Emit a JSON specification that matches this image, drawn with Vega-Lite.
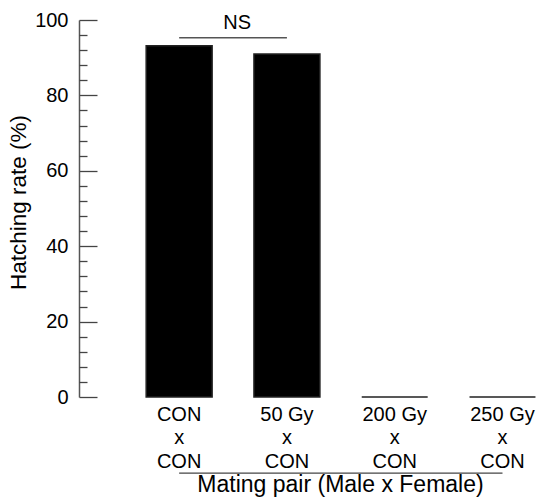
{
  "$schema": "https://vega.github.io/schema/vega-lite/v6.json",
  "width": 460,
  "height": 377,
  "autosize": "none",
  "padding": {"left": 79, "top": 20, "right": 0, "bottom": 105},
  "background": "white",
  "config": {
    "view": {"stroke": null},
    "font": "Liberation Sans",
    "axis": {"grid": false, "labelFont": "Liberation Sans", "titleFont": "Liberation Sans", "labelColor": "black", "titleColor": "black", "titleFontWeight": "normal"}
  },
  "datasets": {
    "bars": [
      {"pair": "CON|x|CON", "rate": 93.2},
      {"pair": "50 Gy|x|CON", "rate": 91.0},
      {"pair": "200 Gy|x|CON", "rate": 0},
      {"pair": "250 Gy|x|CON", "rate": 0}
    ],
    "ns": [{"from": "CON|x|CON", "to": "50 Gy|x|CON", "y": 95.3, "ty": 97.5, "label": "NS"}],
    "bracket": [{"from": "CON|x|CON", "to": "250 Gy|x|CON", "y": -20.2}]
  },
  "resolve": {"axis": {"y": "independent"}},
  "layer": [
    {
      "data": {"name": "bars"},
      "mark": {"type": "bar", "color": "black", "stroke": "#222", "strokeWidth": 1.5},
      "encoding": {
        "x": {
          "field": "pair", "type": "nominal", "sort": null,
          "scale": {"paddingInner": 0.388, "paddingOuter": 0.328, "align": 0.95},
          "axis": {
            "domain": false, "ticks": false, "labelAngle": 0,
            "labelExpr": "split(datum.label, '|')",
            "labelFontSize": 20, "labelLineHeight": 23.5, "labelPadding": 7,
            "title": "Mating pair (Male x Female)", "titleFontSize": 23,
            "titleX": 261, "titlePadding": 2
          }
        },
        "y": {
          "field": "rate", "type": "quantitative",
          "scale": {"domain": [0, 100], "nice": false},
          "axis": {
            "values": [0, 20, 40, 60, 80, 100],
            "tickSize": -18, "tickColor": "#444", "tickWidth": 1.3,
            "domainColor": "#555", "domainWidth": 1.5,
            "labelFontSize": 20, "labelPadding": 29,
            "title": "Hatching rate (%)", "titleFontSize": 22.5, "titlePadding": 4, "titleY": 182
          }
        }
      }
    },
    {
      "data": {"name": "ns"},
      "mark": {"type": "rule", "color": "#555", "strokeWidth": 1.5},
      "encoding": {
        "x": {"field": "from", "type": "nominal", "sort": null},
        "x2": {"field": "to"},
        "y": {
          "field": "y", "type": "quantitative",
          "axis": {
            "values": [4, 8, 12, 16, 24, 28, 32, 36, 44, 48, 52, 56, 64, 68, 72, 76, 84, 88, 92, 96],
            "orient": "left", "domain": false, "labels": false, "title": null,
            "tickSize": -8, "tickColor": "#444", "tickWidth": 1.3
          }
        }
      }
    },
    {
      "data": {"name": "ns"},
      "mark": {"type": "text", "fontSize": 20, "dx": 58, "baseline": "alphabetic", "color": "black"},
      "encoding": {
        "x": {"field": "from", "type": "nominal", "sort": null},
        "y": {"field": "ty", "type": "quantitative", "axis": null},
        "text": {"field": "label"}
      }
    },
    {
      "data": {"name": "bracket"},
      "mark": {"type": "rule", "color": "#444", "strokeWidth": 1.3},
      "encoding": {
        "x": {"field": "from", "type": "nominal", "sort": null},
        "x2": {"field": "to"},
        "y": {"field": "y", "type": "quantitative", "axis": null}
      }
    }
  ]
}
